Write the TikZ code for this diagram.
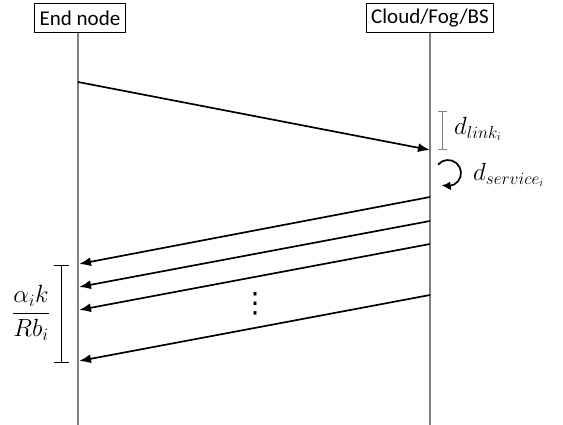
\documentclass[tikz,border=0pt]{standalone}
\usepackage{amsmath}
\usepackage{fontspec}
\setmainfont{Carlito}
\newfontfamily\symfont{DejaVu Sans}
\usetikzlibrary{arrows.meta, bending, positioning, calc}

\tikzset{
    actor/.style={draw, line width=0.8pt, inner sep=5pt, minimum height=29pt, font=\fontsize{21}{24}\selectfont},
    life/.style={draw=gray, line width=1.4pt},
    msg/.style={->, line width=1.7pt},
    brace/.style={line width=1pt, {Bar[width=15pt]}-{Bar[width=15pt]}},
    lbl/.style={font=\fontsize{25}{28}\selectfont, inner sep=0pt}
}

\begin{document}
\begin{tikzpicture}[x=1pt, y=-1pt, >={Latex[length=12pt,width=9pt]}]
    \useasboundingbox (0,0) rectangle (563,425);
    \node[actor] (en) at (80,18) {End node};
    \node[actor] (cl) at (430,18) {Cloud/Fog/BS};
    % lifelines
    \coordinate (enb) at (78,425);
    \coordinate (clb) at (430,425);
    \draw[life] (78,0 |- en.south) -- (enb);
    \draw[life] (430,0 |- cl.south) -- (clb);
    % request
    \coordinate (req) at (78,82);
    \coordinate (rcv) at (430,150);
    \draw[msg] (req) -- (rcv);
    % link delay
    \coordinate (lk1) at (442,111);
    \coordinate (lk2) at (442,150);
    \draw[brace, draw=gray, {Bar[width=9pt]}-{Bar[width=9pt]}] (lk1) -- (lk2);
    \node[lbl, anchor=west] (dlink) at (454,129) {$d_{link_i}$};
    % service delay
    \coordinate (srv) at (448,173);
    \draw[line width=1.7pt, -{Latex[length=9pt,width=9pt,bend]}] ($(srv)+(-140:13)$) arc[start angle=-140, end angle=118, radius=13];
    \node[lbl, anchor=west] (dsrv) at (473,175) {$d_{service_i}$};
    % replies
    \coordinate (s1) at (430,197);
    \coordinate (s2) at (430,221);
    \coordinate (s3) at (430,244);
    \coordinate (s4) at (430,295);
    \coordinate (r1) at (79,264);
    \coordinate (r2) at (79,287);
    \coordinate (r3) at (79,310);
    \coordinate (r4) at (79,361);
    \foreach \i in {1,...,4}
        \draw[msg] (s\i) -- (r\i);
    \node[font=\fontsize{28}{30}\symfont, inner sep=0pt] (dots) at (255,304) {⋮};
    % transmission time
    \coordinate (tx1) at (61,265);
    \coordinate (tx2) at (61,363);
    \draw[brace] (tx1) -- (tx2);
    \node[lbl] (dtx) at (31,313) {$\dfrac{\alpha_i k}{R b_i}$};
\end{tikzpicture}
\end{document}
